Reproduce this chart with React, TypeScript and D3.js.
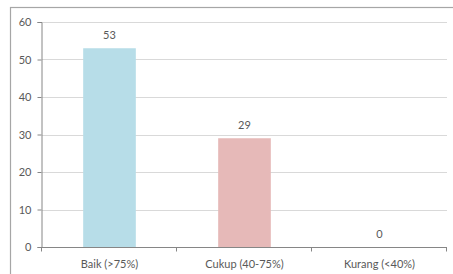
import * as d3 from 'd3';
import { useEffect, useRef } from 'react';

const categories = ['Baik (>75%)', 'Cukup (40-75%)', 'Kurang (<40%)'];
const values = [53, 29, 0];
const barColors = ['#b7dde8', '#e6b9b8', '#c3d69b'];
const yTicks = [0, 10, 20, 30, 40, 50, 60];

export default function App() {
    const svgRef = useRef<SVGSVGElement | null>(null);

    useEffect(() => {
        if (!svgRef.current) return;
        const svg = d3.select(svgRef.current);
        svg.selectAll('*').remove();

        const width = 453;
        const height = 274;
        const margin = { top: 22, right: 6, bottom: 27, left: 42 };
        const font = 'Lato, Carlito, "Open Sans", sans-serif';
        const textColor = '#595959';

        svg.append('rect')
            .attr('width', width)
            .attr('height', height)
            .attr('fill', '#fff');

        // chart frame
        svg.append('rect')
            .attr('x', 10.5)
            .attr('y', 7.5)
            .attr('width', width + 10)
            .attr('height', height + 10)
            .attr('fill', 'none')
            .attr('stroke', '#a6a6a6')
            .attr('stroke-width', 1.2);

        const x = d3.scaleBand<string>()
            .domain(categories)
            .range([margin.left, width - margin.right])
            .paddingInner(0.61)
            .paddingOuter(0.305);

        const y = d3.scaleLinear()
            .domain([0, 60])
            .range([height - margin.bottom, margin.top]);

        // gridlines
        svg.append('g')
            .selectAll('line')
            .data(yTicks.filter(d => d > 0))
            .enter().append('line')
            .attr('x1', margin.left)
            .attr('x2', width - margin.right)
            .attr('y1', d => Math.round(y(d)) + 0.5)
            .attr('y2', d => Math.round(y(d)) + 0.5)
            .attr('stroke', '#d9d9d9')
            .attr('stroke-width', 1);

        // bars
        svg.append('g')
            .selectAll('rect')
            .data(values)
            .enter().append('rect')
            .attr('x', (d, i) => x(categories[i])!)
            .attr('y', d => y(d))
            .attr('width', x.bandwidth())
            .attr('height', d => y(0) - y(d))
            .attr('fill', (d, i) => barColors[i]);

        // value labels
        svg.append('g')
            .selectAll('text')
            .data(values)
            .enter().append('text')
            .attr('x', (d, i) => x(categories[i])! + x.bandwidth() / 2)
            .attr('y', d => y(d) - 9)
            .attr('text-anchor', 'middle')
            .attr('font-family', font)
            .attr('font-size', 11)
            .attr('fill', textColor)
            .text(d => d);

        // y axis
        const yAxis = svg.append('g')
            .attr('transform', `translate(${margin.left - 0.5}, 0)`)
            .call(d3.axisLeft(y).tickValues(yTicks).tickSize(4).tickPadding(6));
        yAxis.selectAll('.domain').attr('stroke', '#868686');
        yAxis.selectAll('.tick line').attr('stroke', '#868686');
        yAxis.selectAll('.tick text')
            .attr('fill', textColor)
            .attr('font-family', font)
            .attr('font-size', 11);

        // x axis
        const x0 = margin.left - 0.5;
        const bounds = d3.range(categories.length + 1).map(i => margin.left + i * x.step());
        const xAxis = svg.append('g');
        xAxis.append('line')
            .attr('x1', x0)
            .attr('x2', width - margin.right)
            .attr('y1', y(0) + 0.5)
            .attr('y2', y(0) + 0.5)
            .attr('stroke', '#868686');
        xAxis.selectAll('.xtick')
            .data(bounds)
            .enter().append('line')
            .attr('class', 'xtick')
            .attr('x1', d => Math.round(d) - 0.5)
            .attr('x2', d => Math.round(d) - 0.5)
            .attr('y1', y(0))
            .attr('y2', y(0) + 4.5)
            .attr('stroke', '#868686');
        xAxis.selectAll('.xlabel')
            .data(categories)
            .enter().append('text')
            .attr('class', 'xlabel')
            .attr('x', d => x(d)! + x.bandwidth() / 2)
            .attr('y', y(0) + 21)
            .attr('text-anchor', 'middle')
            .attr('font-family', font)
            .attr('font-size', 11)
            .attr('fill', textColor)
            .text(d => d);
    }, []);

    return (
        <svg
            ref={svgRef}
            width={453}
            height={274}
            style={{ position: 'absolute', left: 0, top: 0 }}
        />
    );
}
